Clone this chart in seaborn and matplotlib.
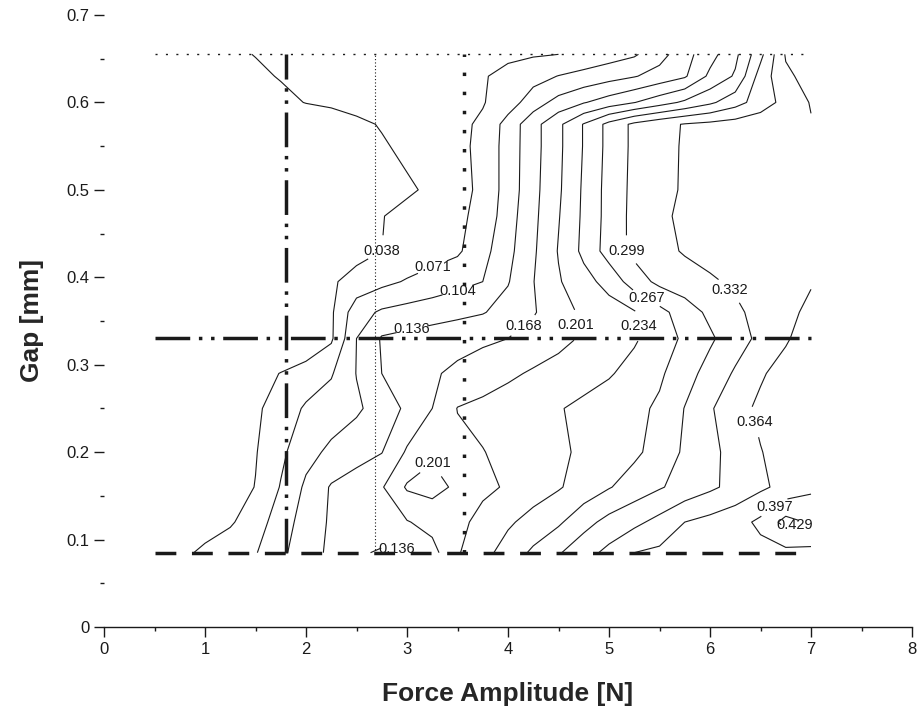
import numpy as np
import matplotlib
matplotlib.use("Agg")
import matplotlib.pyplot as plt
import seaborn as sns

sns.set_theme(style="white")
plt.rcParams['font.family'] = ['Liberation Sans', 'DejaVu Sans']

# contour levels shown on the chart
levels = [0.038, 0.071, 0.104, 0.136, 0.168, 0.201, 0.234, 0.267, 0.299, 0.332, 0.364, 0.397, 0.429]

# force amplitude grid [N]
force_nodes = [0.5, 0.75, 1.0, 1.25, 1.5, 1.75, 2.0, 2.25, 2.5, 2.75, 3.0, 3.25, 3.5, 3.75,
               4.0, 4.25, 4.5, 4.75, 5.0, 5.25, 5.5, 5.75, 6.0, 6.25, 6.5, 6.75, 7.0]
# gap grid [mm]
gap_nodes = [0.085, 0.12, 0.16, 0.20, 0.25, 0.29, 0.33, 0.36, 0.395, 0.43, 0.47, 0.50, 0.55, 0.575, 0.60, 0.63, 0.655]

# measured quantity (x 1/1000), one row per gap value
grid_milli = [
 [0,28,46,57,69,96,125,141,141,132,132,157,198,223,248,273,296,319,341,364,370,375,381,385,387,388,390],
 [0,10,20,34,56,87,119,140,148,157,166,179,193,210,229,246,262,288,309,324,342,364,374,384,404,440,425],
 [0,2,5,22,39,73,110,139,152,165,205,212,195,195,204,218,231,248,265,281,296,311,326,342,358,374,390],
 [0,0,0,18,36,64,93,111,123,135,172,196,193,200,209,219,229,239,250,261,279,304,324,343,363,374,385],
 [0,0,0,16,32,54,75,87,99,118,142,168,202,209,217,225,232,241,250,259,272,300,328,355,369,377,385],
 [0,0,0,13,26,39,53,68,105,136,150,164,175,185,195,205,213,222,231,245,262,286,311,336,361,374,385],
 [0,0,0,0,0,5,10,33,104,139,145,151,156,162,168,180,192,205,218,230,250,273,294,317,340,361,378],
 [0,0,0,0,0,5,10,33,90,109,116,122,128,134,148,165,188,207,219,231,257,283,306,326,342,357,370],
 [0,0,0,0,0,8,15,34,49,62,74,84,94,104,134,167,198,222,246,283,307,317,328,337,345,354,362],
 [0,0,0,0,0,5,10,19,28,38,47,57,66,93,127,163,203,242,281,307,322,335,342,349,349,347,345],
 [0,0,0,0,0,5,10,19,28,37,46,55,64,81,122,160,199,240,279,308,327,337,344,351,351,349,348],
 [0,0,0,0,0,5,10,16,22,28,34,43,59,79,118,158,196,239,279,307,324,335,342,349,349,347,345],
 [0,0,0,0,0,5,10,18,27,35,44,54,63,79,118,156,194,236,277,306,322,335,342,349,349,347,345],
 [0,0,0,0,0,8,15,23,32,40,48,56,64,76,117,156,194,236,277,306,322,334,340,346,352,357,362],
 [0,0,0,10,20,30,39,43,48,52,56,60,65,69,88,121,147,166,183,200,220,240,261,286,315,343,366],
 [0,0,0,16,32,40,44,47,51,55,58,62,66,69,78,92,105,114,124,134,148,164,208,238,313,358,375],
 [0,10,20,32,39,42,45,47,50,52,55,58,60,63,66,68,71,81,90,100,124,156,189,226,290,367,380],
]

# contour-label anchor points (force, gap)
label_force = [2.76, 3.25, 3.50, 3.05, 2.90, 4.15, 4.65, 3.25, 5.33, 5.38, 5.13, 6.18, 6.39, 6.60, 6.85]
label_gap   = [0.43, 0.412, 0.385, 0.339, 0.09, 0.345, 0.345, 0.187, 0.345, 0.378, 0.43, 0.383, 0.233, 0.143, 0.113]

# reference lines
ref_force_span = [0.5, 7.0]
ref_gap_span = [0.085, 0.655]
gap_top, gap_mid, gap_bottom = 0.655, 0.33, 0.085
force_dashdot, force_thin_dot, force_heavy_dot = 1.8, 2.68, 3.56

xticks = [0, 1, 2, 3, 4, 5, 6, 7, 8]
yticks = [0, 0.1, 0.2, 0.3, 0.4, 0.5, 0.6, 0.7]
ytick_labels = ["0", "0.1", "0.2", "0.3", "0.4", "0.5", "0.6", "0.7"]

Z = np.array(grid_milli, dtype=float) / 1000.0

X0, X8 = 104, 912
fig = plt.figure(figsize=(9.19, 7.25), dpi=100)
ax = fig.add_axes([X0/919, 1-627/725, (X8-X0)/919, (627-15)/725])
cs = ax.contour(force_nodes, gap_nodes, Z, levels=levels, colors='k', linewidths=0.8)
ax.clabel(cs, manual=list(zip(label_force, label_gap)), fmt='%.3f', fontsize=10.5,
          inline=True, inline_spacing=1)
for t in cs.labelTexts:
    t.set_rotation(0)

dashdotdot = (0, (10, 2.5, 1, 2.5, 1, 2.5))
ax.plot(ref_force_span, [gap_top, gap_top], color='k', lw=1.0, ls=(0, (1.5, 6)))
ax.plot(ref_force_span, [gap_bottom, gap_bottom], color='k', lw=2.5, ls=(0, (6, 4.5)))
ax.plot(ref_force_span, [gap_mid, gap_mid], color='k', lw=2.5, ls=dashdotdot)
ax.plot([force_dashdot]*2, ref_gap_span, color='k', lw=2.5, ls=dashdotdot)
ax.plot([force_thin_dot]*2, ref_gap_span, color='k', lw=0.8, ls=(0, (1, 2)))
ax.plot([force_heavy_dot]*2, ref_gap_span, color='k', lw=2.5, ls=(0, (1, 4.5)))

ax.set_xlim(0, 8)
ax.set_ylim(0, 0.7)
ax.set_xticks(xticks)
ax.set_xticklabels([str(v) for v in xticks])
ax.set_yticks(yticks)
ax.set_yticklabels(ytick_labels)
ax.set_xticks(np.arange(0.5, 8, 1.0), minor=True)
ax.set_yticks(np.arange(0.05, 0.7, 0.1), minor=True)
for s in ['top', 'right', 'left']:
    ax.spines[s].set_visible(False)
ax.spines['bottom'].set_color('k')
ax.spines['bottom'].set_linewidth(1.0)
ax.tick_params(axis='both', which='major', direction='out', length=7, width=1, color='k',
               labelsize=12, labelcolor='k', bottom=True, left=True)
ax.tick_params(axis='both', which='minor', direction='out', length=3, width=1, color='k',
               bottom=True, left=True)
ax.set_xlabel('Force Amplitude [N]', fontsize=19, fontweight='bold', labelpad=18)
ax.set_ylabel('Gap [mm]', fontsize=19, fontweight='bold', labelpad=16)
ax.set_facecolor('white')
fig.savefig('out.png', dpi=100)
